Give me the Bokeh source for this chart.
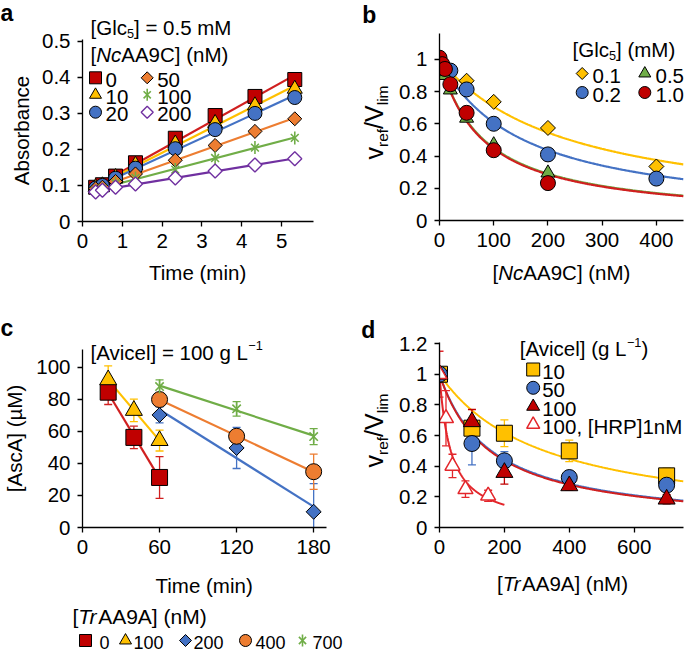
import numpy as np
from bokeh.plotting import figure
from bokeh.models import FixedTicker, Range1d
from bokeh.core.properties import value
from bokeh.layouts import column, row
from bokeh.embed import file_html
from bokeh.resources import INLINE

# ======================= DATA =======================
# ---- panel a : absorbance vs time, [Glc5] = 0.5 mM ----
a_time = [0.33, 0.5, 0.83, 1.33, 2.33, 3.33, 4.33, 5.33]
a_series = ["0", "10", "20", "50", "100", "200"]          # [NcAA9C] (nM)
a_abs_0 = [0.095, 0.102, 0.126, 0.163, 0.231, 0.294, 0.347, 0.394]
a_abs_10 = [0.095, 0.100, 0.123, 0.157, 0.216, 0.273, 0.322, 0.368]
a_abs_20 = [0.093, 0.100, 0.120, 0.148, 0.202, 0.255, 0.300, 0.344]
a_abs_50 = [0.091, 0.095, 0.111, 0.132, 0.170, 0.211, 0.250, 0.285]
a_abs_100 = [0.086, 0.091, 0.106, 0.121, 0.144, 0.176, 0.205, 0.232]
a_abs_200 = [0.082, 0.087, 0.095, 0.104, 0.121, 0.140, 0.157, 0.174]
a_fit_span = [0.2, 5.35]
a_xticks = [0, 1, 2, 3, 4, 5]
a_xticklabels = ["0", "1", "2", "3", "4", "5"]
a_yticks = [0, 0.1, 0.2, 0.3, 0.4, 0.5]
a_yticklabels = ["0", "0.1", "0.2", "0.3", "0.4", "0.5"]

# ---- panel b : v_ref/V_lim vs [NcAA9C] ----
b_series = ["0.1", "0.2", "0.5", "1.0"]                   # [Glc5] (mM)
b_x_01 = [50, 100, 200, 400]
b_y_01 = [0.867, 0.736, 0.574, 0.335]
b_x_02 = [20, 50, 100, 200, 400]
b_y_02 = [0.930, 0.813, 0.600, 0.410, 0.260]
b_x_05 = [10, 20, 50, 100, 200]
b_y_05 = [0.900, 0.810, 0.635, 0.470, 0.295]
b_x_10 = [0, 5, 10, 20, 50, 100, 200]
b_y_10 = [1.010, 0.970, 0.940, 0.845, 0.668, 0.436, 0.232]
b_fit_K = [240, 155, 82, 80]        # fitted constants of the curves, v = 1/(1 + E/K)
b_xticks = [0, 100, 200, 300, 400]
b_xticklabels = ["0", "100", "200", "300", "400"]
b_yticks = [0, 0.2, 0.4, 0.6, 0.8, 1.0]
b_yticklabels = ["0", "0.2", "0.4", "0.6", "0.8", "1"]

# ---- panel c : [AscA] vs time, [Avicel] = 100 g/L ----
c_series = ["0", "100", "200", "400", "700"]              # [TrAA9A] (nM)
c_t_0 = [20, 40, 60]
c_y_0 = [84.4, 56.2, 31.2]
c_e_0 = [7.7, 7.0, 13.0]
c_t_100 = [20, 40, 60]
c_y_100 = [92.1, 73.0, 54.2]
c_e_100 = [8.7, 7.0, 6.5]
c_t_200 = [60, 120, 180]
c_y_200 = [70.2, 49.6, 9.8]
c_e_200 = [5.0, 12.8, 17.5]
c_t_400 = [60, 120, 180]
c_y_400 = [79.8, 56.9, 34.8]
c_e_400 = [3.0, 4.0, 11.0]
c_t_700 = [60, 120, 180]
c_y_700 = [87.9, 74.0, 56.7]
c_e_700 = [4.2, 4.5, 5.0]
c_xticks = [0, 60, 120, 180]
c_xticklabels = ["0", "60", "120", "180"]
c_yticks = [0, 20, 40, 60, 80, 100]
c_yticklabels = ["0", "20", "40", "60", "80", "100"]

# ---- panel d : v_ref/V_lim vs [TrAA9A] ----
d_series = ["10", "50", "100", "100, [HRP]1nM"]           # [Avicel] (g/L)
d_x = [0, 100, 200, 400, 700]
d_y_10 = [1.0, 0.648, 0.615, 0.500, 0.337]
d_e_10 = [0.0, 0.05, 0.087, 0.07, 0.05]
d_y_50 = [1.0, 0.548, 0.435, 0.326, 0.276]
d_e_50 = [0.0, 0.14, 0.06, 0.045, 0.04]
d_y_100 = [1.0, 0.690, 0.359, 0.272, 0.185]
d_e_100 = [0.0, 0.08, 0.076, 0.03, 0.03]
d_x_hrp = [0, 20, 40, 80, 150]
d_y_hrp = [1.0, 0.713, 0.402, 0.250, 0.207]
d_e_hrp = [0.15, 0.18, 0.076, 0.054, 0.036]
d_fit_K = [324, 160, 155, 34.7]     # fitted constants of the curves, v = 1/(1 + E/K)
d_fit_span = [752, 752, 752, 200]
d_xticks = [0, 200, 400, 600]
d_xticklabels = ["0", "200", "400", "600"]
d_yticks = [0, 0.2, 0.4, 0.6, 0.8, 1.0, 1.2]
d_yticklabels = ["0", "0.2", "0.4", "0.6", "0.8", "1", "1.2"]

# ======================= STYLE / GEOMETRY =======================
FONT = "Liberation Sans"
FS = 20.5
RED, YEL, BLU, ORA, GRN, PUR, BRED = ("#C00000", "#FFC000", "#4472C4", "#ED7D31",
                                      "#70AD47", "#7030A0", "#E3262B")
RED_LINE = "#D01F1F"

GA = dict(X0=0, Y0=0, W=340, H=300, L=82, R=27, T=39, B=79)
GB = dict(X0=340, Y0=0, W=345, H=300, L=99, R=2, T=33, B=80)
GC = dict(X0=0, Y0=300, W=340, H=300, L=82, R=14, T=49, B=73)
GD = dict(X0=340, Y0=300, W=345, H=300, L=99, R=2, T=42, B=73)
GS = dict(X0=0, Y0=600, W=685, H=55, L=0, R=0, T=0, B=0)

ADV = {' ': 278, '(': 333, ')': 333, ',': 278, '.': 278, '/': 278, '=': 584, '[': 278,
       ']': 278, '\u2212': 584, '\u00b5': 576, 'A': 667, 'C': 722, 'G': 778, 'H': 722,
       'L': 556, 'M': 833, 'N': 722, 'P': 667, 'R': 722, 'T': 611, 'V': 667, 'a': 556,
       'b': 556, 'c': 500, 'e': 556, 'f': 278, 'g': 556, 'i': 222, 'l': 222, 'm': 833,
       'n': 556, 'o': 556, 'r': 333, 's': 500, 'v': 500}


def tw(s, size):
    return sum(ADV.get(ch, 556) for ch in s) / 1000.0 * size


def mkfig(g, xr, yr, xt=None, xtl=None, yt=None, ytl=None, axes=True):
    kw = {} if axes else dict(x_axis_location=None, y_axis_location=None)
    p = figure(width=g["W"], height=g["H"], x_range=Range1d(*xr), y_range=Range1d(*yr),
               output_backend="svg", toolbar_location=None, title=None,
               min_border_left=g["L"], min_border_right=g["R"],
               min_border_top=g["T"], min_border_bottom=g["B"], **kw)
    p.outline_line_color = None
    p.background_fill_color = "white"
    p.border_fill_color = "white"
    p.grid.visible = False
    if axes:
        for ax in (p.xaxis[0], p.yaxis[0]):
            ax.axis_line_color = "black"
            ax.axis_line_width = 1.3
            ax.major_tick_line_color = "black"
            ax.major_tick_line_width = 1.3
            ax.major_tick_in = 0
            ax.major_tick_out = 5
            ax.minor_tick_line_color = None
            ax.major_label_text_font = FONT
            ax.major_label_text_font_size = f"{FS}px"
            ax.major_label_text_color = "black"
            ax.major_label_standoff = 7
        p.xaxis[0].ticker = FixedTicker(ticks=xt)
        p.xaxis[0].major_label_overrides = dict(zip(xt, xtl))
        p.yaxis[0].ticker = FixedTicker(ticks=yt)
        p.yaxis[0].major_label_overrides = dict(zip(yt, ytl))
    g["xr"], g["yr"] = xr, yr
    return p


def to_data(g, rx, ry):
    """page pixel (rx, ry) -> data coordinates of figure g (for placing texts/legend marks)"""
    px, py = rx - g["X0"], ry - g["Y0"]
    fw = g["W"] - g["L"] - g["R"]
    fh = g["H"] - g["T"] - g["B"]
    x0, x1 = g["xr"]
    y0, y1 = g["yr"]
    return (x0 + (px - g["L"]) / fw * (x1 - x0),
            y0 + ((g["H"] - g["B"]) - py) / fh * (y1 - y0))


def lab(p, g, rx, ry, text, size=FS, style="normal", align="left", angle=0.0, color="black"):
    if angle == 0.0:
        ry = ry - 0.25 * size
    else:
        rx = rx - 0.35 * size
    x, y = to_data(g, rx, ry)
    p.text(x=[x], y=[y], text=[text], text_font=value(FONT),
           text_font_size=value(f"{size:.1f}px"), text_font_style=value(style),
           text_align=value(align), text_baseline=value("alphabetic"), angle=angle,
           text_color=color, level="overlay")


def rich(p, g, rx, ry, parts, size=FS, align="left", rot=False):
    ws = [tw(t, size * rs) for (t, st, rs, sh) in parts]
    pos = 0.0 if align == "left" else -sum(ws) / 2.0
    for (t, st, rs, sh), w in zip(parts, ws):
        if rot:
            px, py, ang = rx - sh * size, ry - pos, np.pi / 2
        else:
            px, py, ang = rx + pos, ry - sh * size, 0.0
        lab(p, g, px, py, t, size * rs, st, "left", ang)
        pos += w


def markers(p, xs, ys, kind, color, size, level="glyph"):
    if kind in ("square", "circle", "triangle"):
        p.scatter(xs, ys, marker=kind, size=size, fill_color=color,
                  line_color="black", line_width=1.0, level=level)
    elif kind == "diamond":
        p.scatter(xs, ys, marker="square", angle=np.pi / 4, size=size / 1.414,
                  fill_color=color, line_color="black", line_width=1.0, level=level)
    elif kind == "odiamond":
        p.scatter(xs, ys, marker="square", angle=np.pi / 4, size=size / 1.414,
                  fill_color="white", line_color=color, line_width=1.4, level=level)
    elif kind == "otriangle":
        p.scatter(xs, ys, marker="triangle", size=size, fill_color="white",
                  line_color=color, line_width=1.5, level=level)
    elif kind == "star":
        p.scatter(xs, ys, marker="x", size=size * 0.85, line_color=color, line_width=1.6,
                  level=level)
        p.scatter(xs, ys, marker="dash", angle=np.pi / 2, size=size, line_color=color,
                  line_width=1.6, level=level)


def errbars(p, xs, ys, es, color, cap=8):
    sel = [(x, y, e) for x, y, e in zip(xs, ys, es) if e > 0]
    X = [s[0] for s in sel]
    lo = [s[1] - s[2] for s in sel]
    hi = [s[1] + s[2] for s in sel]
    p.segment(X, lo, X, hi, line_color=color, line_width=1.3)
    p.scatter(X + X, lo + hi, marker="dash", size=cap, line_color=color, line_width=1.3)


def legend_item(p, g, mrx, ry, kind, color, msize, text, trx, size=FS):
    x, y = to_data(g, mrx, ry)
    markers(p, [x], [y], kind, color, msize, level="overlay")
    lab(p, g, trx, ry + 0.36 * size, text, size)


def sub(t, s=0.62):
    return (t, "normal", s, -0.2)


def sup(t):
    return (t, "normal", 0.62, 0.42)


def n(t):
    return (t, "normal", 1.0, 0.0)


def it(t):
    return (t, "italic", 1.0, 0.0)


VLAB = [n("v"), sub("ref"), n("/"), n("V"), sub("lim")]
VS = 25

# ======================= PANEL a =======================
pa = mkfig(GA, (0, 5.8), (0, 0.505), a_xticks, a_xticklabels, a_yticks, a_yticklabels)
a_data = [a_abs_0, a_abs_10, a_abs_20, a_abs_50, a_abs_100, a_abs_200]
a_cols = [RED_LINE, YEL, BLU, ORA, GRN, PUR]
a_mcols = [RED, YEL, BLU, ORA, GRN, PUR]
a_kinds = ["square", "triangle", "circle", "diamond", "star", "odiamond"]
a_sizes = [14, 15, 14, 14, 13, 14]
for ys, c in zip(a_data, a_cols):
    k, b0 = np.polyfit(a_time, ys, 1)
    pa.line(a_fit_span, [k * a_fit_span[0] + b0, k * a_fit_span[1] + b0],
            line_color=c, line_width=2.2)
for ys, c, kd, sz in zip(a_data, a_mcols, a_kinds, a_sizes):
    markers(pa, a_time, ys, kd, c, sz)
lab(pa, GA, 0, 18.5, "a", 23, "bold")
rich(pa, GA, 90, 32.5, [n("[Glc"), sub("5"), n("] = 0.5 mM")])
rich(pa, GA, 90, 59.5, [n("["), it("Nc"), n("AA9C] (nM)")])
a_leg_pos = [(95, 77.3, 105), (95, 94.3, 105), (95, 111.7, 105),
             (146.7, 77.3, 156.7), (146.7, 94.3, 156.7), (146.7, 111.7, 156.7)]
for (mx, my, tx), c, kd, s in zip(a_leg_pos, a_mcols, a_kinds, a_series):
    legend_item(pa, GA, mx, my, kd, c, 12, s, tx)
rich(pa, GA, 28.3, 130, [n("Absorbance")], align="center", rot=True)
rich(pa, GA, 197.5, 277, [n("Time (min)")], align="center")

# ======================= PANEL b =======================
pb = mkfig(GB, (0, 450), (0, 1.16), b_xticks, b_xticklabels, b_yticks, b_yticklabels)
b_xs = [b_x_01, b_x_02, b_x_05, b_x_10]
b_ys = [b_y_01, b_y_02, b_y_05, b_y_10]
b_cols = [YEL, BLU, GRN, RED]
b_kinds = ["diamond", "circle", "triangle", "circle"]
b_sizes = [15, 15, 14, 15]
xc = np.linspace(0, 450, 300)
for K, c in zip(b_fit_K, [YEL, BLU, GRN, RED_LINE]):
    pb.line(xc, 1.0 / (1.0 + xc / K), line_color=c, line_width=2.2)
for xs, ys, c, kd, sz in zip(b_xs, b_ys, b_cols, b_kinds, b_sizes):
    markers(pb, xs, ys, kd, c, sz)
lab(pb, GB, 361.7, 20.7, "b", 23, "bold")
rich(pb, GB, 572, 54, [n("[Glc"), sub("5"), n("] (mM)")])
b_leg_pos = [(581.7, 73, 592), (581.7, 92, 592), (644.3, 73, 655), (644.3, 92, 655)]
for (mx, my, tx), c, kd, s in zip(b_leg_pos, b_cols, b_kinds, b_series):
    legend_item(pb, GB, mx, my, kd, c, 12, s, tx)
rich(pb, GB, 382, 122, VLAB, size=VS, align="center", rot=True)
rich(pb, GB, 561, 277, [n("["), it("Nc"), n("AA9C] (nM)")], align="center")

# ======================= PANEL c =======================
pc = mkfig(GC, (0, 190), (0, 111), c_xticks, c_xticklabels, c_yticks, c_yticklabels)
c_ts = [c_t_0, c_t_100, c_t_200, c_t_400, c_t_700]
c_ys = [c_y_0, c_y_100, c_y_200, c_y_400, c_y_700]
c_es = [c_e_0, c_e_100, c_e_200, c_e_400, c_e_700]
c_cols = [RED, YEL, BLU, ORA, GRN]
c_lcols = [RED_LINE, YEL, BLU, ORA, GRN]
c_kinds = ["square", "triangle", "diamond", "circle", "star"]
c_sizes = [16, 17, 15, 16, 14]
for ts, ys, c in zip(c_ts, c_ys, c_lcols):
    k, b0 = np.polyfit(ts, ys, 1)
    pc.line([ts[0], ts[-1]], [k * ts[0] + b0, k * ts[-1] + b0], line_color=c, line_width=2.2)
for ts, ys, es, c in zip(c_ts, c_ys, c_es, c_lcols):
    errbars(pc, ts, ys, es, c)
for ts, ys, c, kd, sz in zip(c_ts, c_ys, c_cols, c_kinds, c_sizes):
    markers(pc, ts, ys, kd, c, sz)
lab(pc, GC, 0, 333.3, "c", 23, "bold")
rich(pc, GC, 90, 356.7, [n("[Avicel] = 100 g L"), sup("\u22121")])
rich(pc, GC, 20.7, 438, [n("[AscA] (\u00b5M)")], align="center", rot=True)
rich(pc, GC, 204, 590, [n("Time (min)")], align="center")

# ======================= PANEL d =======================
pd_ = mkfig(GD, (0, 752), (0, 1.207), d_xticks, d_xticklabels, d_yticks, d_yticklabels)
for K, span, c in zip(d_fit_K, d_fit_span, [YEL, BLU, RED_LINE, BRED]):
    xc = np.linspace(0, span, 300)
    pd_.line(xc, 1.0 / (1.0 + xc / K), line_color=c, line_width=2.0)
errbars(pd_, d_x, d_y_10, d_e_10, YEL)
errbars(pd_, d_x, d_y_50, d_e_50, BLU)
errbars(pd_, d_x, d_y_100, d_e_100, RED)
errbars(pd_, d_x_hrp, d_y_hrp, d_e_hrp, BRED)
markers(pd_, d_x, d_y_10, "square", YEL, 16)
markers(pd_, d_x, d_y_50, "circle", BLU, 16)
markers(pd_, d_x, d_y_100, "triangle", RED, 17)
markers(pd_, d_x_hrp, d_y_hrp, "otriangle", BRED, 15)
lab(pd_, GD, 360.7, 335, "d", 23, "bold")
rich(pd_, GD, 519.3, 353.3, [n("[Avicel] (g L"), sup("\u22121"), n(")")])
d_leg = [(369, "square", YEL), (387.3, "circle", BLU), (406, "triangle", RED),
         (424, "otriangle", BRED)]
for (my, kd, c), s in zip(d_leg, d_series):
    legend_item(pd_, GD, 532.7, my, kd, c, 13, s, 541.7)
rich(pd_, GD, 382, 430, VLAB, size=VS, align="center", rot=True)
rich(pd_, GD, 562, 588, [n("["), it("Tr"), n("AA9A] (nM)")], align="center")

# ======================= bottom legend strip (for panel c) =======================
ps = mkfig(GS, (0, 685), (0, 55), axes=False)
rich(ps, GS, 72, 621, [n("["), it("Tr"), n("AA9A] (nM)")], size=21)
c_leg_pos = [(85, 99), (125, 133), (185, 193), (245, 255), (302, 312)]
for (mx, tx), c, kd, s in zip(c_leg_pos, c_cols, c_kinds, c_series):
    legend_item(ps, GS, mx, 640, kd, c, 12, s, tx, size=18)

layout = column(row(column(pa), column(pb)), row(column(pc), column(pd_)), ps)
open("out.html", "w").write(file_html(layout, INLINE))
